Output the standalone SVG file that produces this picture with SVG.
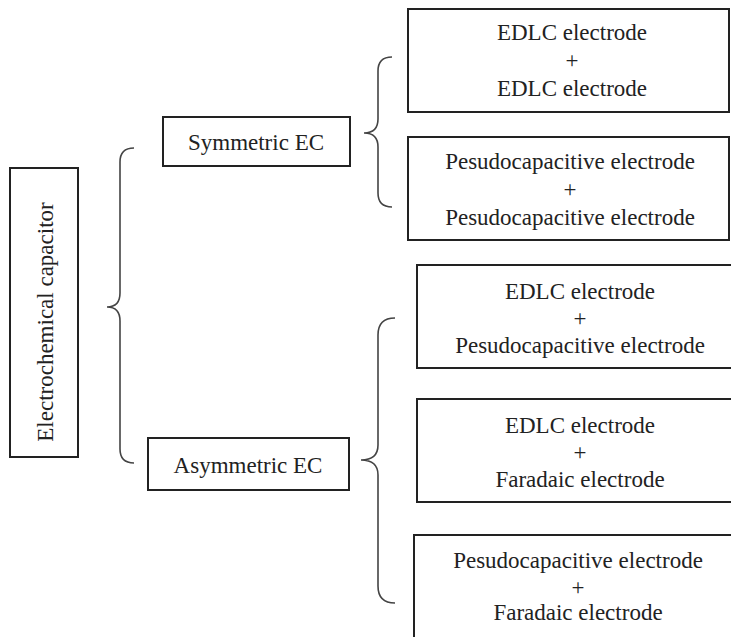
<svg xmlns="http://www.w3.org/2000/svg" width="731" height="637" viewBox="0 0 731 637">
<style>
.box{fill:#fff;stroke:#222;stroke-width:2}
.t{font-family:"Liberation Serif","Times New Roman",serif;font-size:23px;fill:#222;text-anchor:middle}
.brace{fill:none;stroke:#444;stroke-width:1.6}
</style>
<rect width="731" height="637" fill="#fff"/>
<g id="connectors">
<path class="brace" d="M134,148 Q120,148 120,162 L120,293 Q120,307 107,307 Q120,307 120,321 L120,449 Q120,463 134,463"/>
<path class="brace" d="M392,57 Q378,57 378,71 L378,119 Q378,133 364,133 Q378,133 378,147 L378,193 Q378,207 392,207"/>
<path class="brace" d="M395,318 Q378,318 378,335 L378,445 Q378,460 361,460 Q378,460 378,475 L378,586 Q378,603 395,603"/>
</g>
<g id="root">
<rect class="box" x="10" y="168" width="68" height="289"/>
<text class="t" transform="translate(53,322) rotate(-90)">Electrochemical capacitor</text>
</g>
<g id="symmetric">
<rect class="box" x="163" y="117" width="187" height="49"/>
<text class="t" x="256" y="150">Symmetric EC</text>
</g>
<g id="asymmetric">
<rect class="box" x="148" y="438" width="201" height="52"/>
<text class="t" x="248" y="473">Asymmetric EC</text>
</g>
<g id="sym1">
<rect class="box" x="408" y="9" width="321" height="103"/>
<text class="t" x="572" y="40">EDLC electrode</text>
<text class="t" x="572" y="68">+</text>
<text class="t" x="572" y="96">EDLC electrode</text>
</g>
<g id="sym2">
<rect class="box" x="408" y="137" width="321" height="103"/>
<text class="t" x="570" y="169">Pesudocapacitive electrode</text>
<text class="t" x="570" y="197">+</text>
<text class="t" x="570" y="225">Pesudocapacitive electrode</text>
</g>
<g id="asym1">
<rect class="box" x="417" y="265" width="330" height="103"/>
<text class="t" x="580" y="299">EDLC electrode</text>
<text class="t" x="580" y="326">+</text>
<text class="t" x="580" y="353">Pesudocapacitive electrode</text>
</g>
<g id="asym2">
<rect class="box" x="417" y="399" width="330" height="103"/>
<text class="t" x="580" y="433">EDLC electrode</text>
<text class="t" x="580" y="460">+</text>
<text class="t" x="580" y="487">Faradaic electrode</text>
</g>
<g id="asym3">
<rect class="box" x="414" y="535" width="330" height="110"/>
<text class="t" x="578" y="568">Pesudocapacitive electrode</text>
<text class="t" x="578" y="595">+</text>
<text class="t" x="578" y="620">Faradaic electrode</text>
</g>
</svg>
